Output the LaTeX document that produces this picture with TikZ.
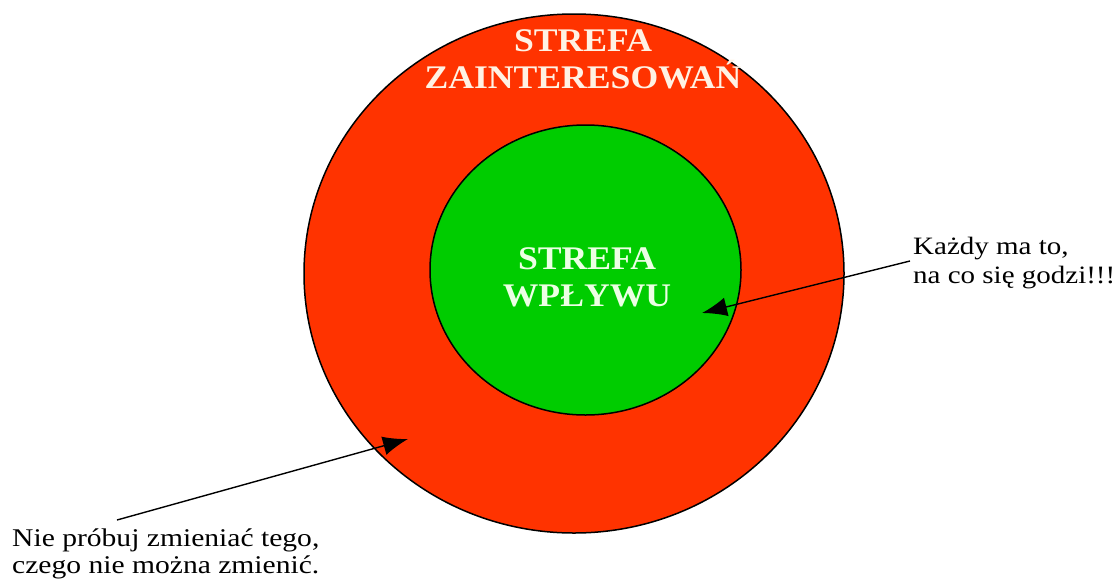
\documentclass[tikz,border=0pt]{standalone}
\usepackage{fontspec}
\setmainfont{Liberation Serif}
\newfontfamily\titlefont{Liberation Serif}[FakeStretch=1.08]
\newfontfamily\notefont{Liberation Serif}[FakeStretch=1.16]
\usetikzlibrary{arrows.meta}
\definecolor{outerred}{RGB}{255,51,0}
\definecolor{innergreen}{RGB}{0,204,0}
\definecolor{outertext}{RGB}{255,242,228}
\definecolor{innertext}{RGB}{236,255,228}
\tikzset{
  zone/.style={draw=black, line width=1.5pt},
  zonetitle/.style={font=\titlefont\bfseries\fontsize{33}{37}\selectfont, align=center, inner sep=0pt},
  note/.style={font=\notefont\fontsize{25.5}{27}\selectfont, align=left, inner sep=0pt, anchor=west},
  pointer/.style={draw=black, line width=1.4pt, -{Latex[length=25pt,width=19pt]}}
}
\begin{document}
\begin{tikzpicture}[x=1pt,y=-1pt]
\useasboundingbox (0,0) rectangle (1119,579);
\fill[white] (0,0) rectangle (1119,579);
% zones
\filldraw[zone, fill=outerred] (574,273.5) ellipse [x radius=270pt, y radius=259.5pt];
\filldraw[zone, fill=innergreen] (585.5,270) ellipse [x radius=155.5pt, y radius=145pt];
% titles
\node[zonetitle, text=outertext] (outertitle) at (583,59) {STREFA\\ZAINTERESOWAŃ};
\node[zonetitle, text=innertext] (innertitle) at (587,277) {STREFA\\WPŁYWU};
% notes
\node[note, font=\notefont\fontsize{25}{29}\selectfont] (kazdy) at (913,263) {Każdy ma to,\\na co się godzi!!!};
\node[note] (nieprobuj) at (12,554) {Nie próbuj zmieniać tego,\\czego nie można zmienić.};
% arrow ends
\coordinate (greentip) at (702,313);
\coordinate (redtip) at (408,439);
\coordinate (leftstart) at (117,520);
\draw[pointer] (kazdy.west) ++(-3,-2) -- (greentip);
\draw[pointer] (leftstart) -- (redtip);
\end{tikzpicture}
\end{document}
